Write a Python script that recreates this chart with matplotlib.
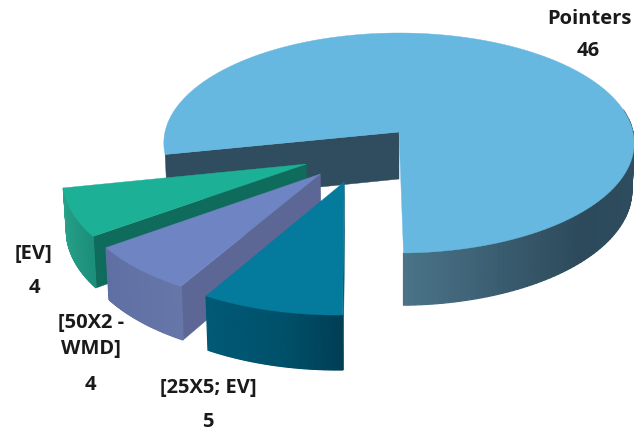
import numpy as np
import matplotlib
matplotlib.use('Agg')
import matplotlib.pyplot as plt
from matplotlib.colors import to_rgb
from matplotlib.patches import Polygon

# pie data, clockwise from the front of the big slice
labels = ['Pointers', '[25X5; EV]', '[50X2 -\nWMD]', '[EV]']
values = [46, 5, 4, 4]

# look of each slice
top_colors = ['#67b8e0', '#047a9c', '#6f84c2', '#1cb096']
side_colors = ['#2f4d5e', '#0c5a73', '#5c6795', '#0f6b5c']
wall_stops = [
    [(0, '#4a7388'), (0.25, '#38596c'), (0.45, '#2c4a5b'), (1, '#2f4e60')],
    [(0, '#005a76'), (0.6, '#00506a'), (1, '#003f55')],
    [(0, '#5f6fa3'), (1, '#6676a9')],
    [(0, '#2aa58d'), (1, '#1c8f7a')],
]
# explode offset of each slice (sideways, towards viewer)
offsets = [(0, 0), (-0.224, 0.439), (-0.3235, 0.371), (-0.385, 0.286)]

# camera
cx, cy = 399, 132
rx, ry = 234, 108.9
persp = 0.1
depth = 47
start = -89


def project(x, t, lower=False):
    w = 1 / (1 - persp * t)
    if lower:
        return cx + rx * x * w * 0.99, cy + ry * t * w + depth * w
    return cx + rx * x * w, cy + ry * t * w


def rim(ang, off, lower=False):
    a = np.radians(ang)
    return project(off[0] + np.cos(a), off[1] - np.sin(a), lower)


def mix(stops, f):
    pos = [s[0] for s in stops]
    rgb = np.array([to_rgb(s[1]) for s in stops])
    return [np.interp(f, pos, rgb[:, i]) for i in range(3)]


def draw_slice(ax, a0, a1, off, top, side, stops, wall_end=None):
    # a0 is the clockwise end, a1 the counter clockwise end
    tip = project(off[0], off[1])
    tip_low = project(off[0], off[1], True)
    # flat wall on the cut edge that looks at the viewer
    pts = [tip, rim(a1, off), rim(a1, off, True), tip_low]
    ax.add_patch(Polygon(pts, closed=True, fc=side, ec=side, lw=0.3))
    # curved wall
    hi = a1 if wall_end is None else wall_end
    angs = np.linspace(a0, hi, 80)
    for i in range(len(angs) - 1):
        col = mix(stops, i / (len(angs) - 2))
        q = [rim(angs[i], off), rim(angs[i + 1], off),
             rim(angs[i + 1], off, True), rim(angs[i], off, True)]
        ax.add_patch(Polygon(q, closed=True, fc=col, ec=col, lw=0.9))
    # top face
    arc = [rim(a, off) for a in np.linspace(a0, a1, 200)]
    ax.add_patch(Polygon([tip] + arc, closed=True, fc=top, ec=top, lw=0.3))


fig = plt.figure(figsize=(6.34, 4.33), dpi=100)
ax = fig.add_axes([0, 0, 1, 1])
ax.set_xlim(0, 634)
ax.set_ylim(433, 0)
ax.axis('off')

sweeps = 360 * np.array(values) / sum(values)

# big slice goes counter clockwise from the front, the rest clockwise
draw_slice(ax, start, start + sweeps[0], offsets[0], top_colors[0],
           side_colors[0], wall_stops[0], wall_end=12)
a = start
order = []
for i in range(1, len(values)):
    order.append((i, a - sweeps[i], a))
    a -= sweeps[i]
# paint back to front
for i, a0, a1 in reversed(order):
    draw_slice(ax, a0, a1, offsets[i], top_colors[i], side_colors[i], wall_stops[i])

plt.rcParams['font.family'] = ['Open Sans', 'DejaVu Sans']
txt = dict(fontsize=14.5, fontweight='bold', color='#1a1a1a', ha='center', va='center')

ax.text(589, 19, labels[0], **txt)
ax.text(588, 51, str(values[0]), **txt)
ax.text(208, 388, labels[1], **txt)
ax.text(208, 422, str(values[1]), **txt)
ax.text(91, 323, labels[2].split('\n')[0], **txt)
ax.text(91, 349, labels[2].split('\n')[1], **txt)
ax.text(90, 385, str(values[2]), **txt)
ax.text(34, 254, labels[3], **txt)
ax.text(34, 288, str(values[3]), **txt)

plt.savefig('out.png', dpi=100)
